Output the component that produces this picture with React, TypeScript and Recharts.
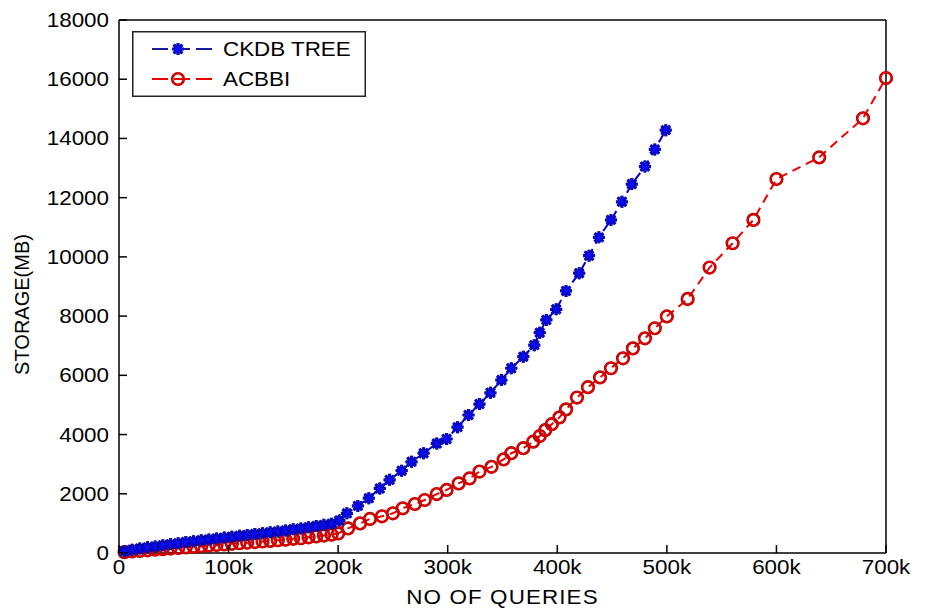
import React from 'react';
import { LineChart, Line, XAxis, YAxis, Legend, Label } from 'recharts';

const FONT = '"Liberation Sans", Arial, Helvetica, sans-serif';
const SX = 1.12; // slight horizontal stretch of the reference's lettering

const xTicks = [0, 100, 200, 300, 400, 500, 600, 700];
const yTicks = [0, 2000, 4000, 6000, 8000, 10000, 12000, 14000, 16000, 18000];

// CKDB TREE (x in thousands of queries, y in MB)
const ckdbX = [5, 12, 19, 26, 33, 40, 47, 54, 61, 68, 75, 82, 89, 96, 103, 110, 117, 124, 131, 138, 145, 152, 159, 166, 173, 180, 187, 194,
  201, 208, 218, 228, 238, 247, 258, 267, 278, 290, 299, 309, 319, 329, 339, 349, 358, 369, 379, 384, 390, 399, 408, 420, 429, 438, 449, 459, 468, 480, 489, 499];
const ckdbY = [60, 110, 150, 190, 220, 260, 300, 330, 370, 400, 430, 460, 490, 520, 550, 580, 610, 640, 670, 700, 730, 760, 800, 830, 870, 910, 950, 990,
  1100, 1340, 1590, 1850, 2180, 2470, 2780, 3080, 3370, 3700, 3850, 4250, 4660, 5030, 5410, 5840, 6240, 6630, 7020, 7440, 7870, 8230, 8850, 9450, 10040, 10660, 11250, 11860, 12460, 13050, 13630, 14280];

// ACBBI
const acbbiX = [5, 12, 19, 26, 33, 40, 47, 54, 61, 68, 75, 82, 89, 96, 103, 110, 117, 124, 131, 138, 145, 152, 159, 166, 173, 180, 187, 194,
  200, 209, 220, 229, 240, 250, 259, 270, 279, 290, 299, 310, 320, 329, 340, 351, 358, 369, 378, 384, 389, 395, 402, 408, 418, 428, 439, 449, 460, 469, 480, 489, 500,
  519, 539, 560, 579, 600, 639, 679, 700];
const acbbiY = [30, 50, 70, 90, 110, 130, 150, 170, 190, 210, 230, 250, 270, 290, 310, 330, 350, 370, 390, 410, 430, 450, 480, 500, 530, 560, 590, 620,
  660, 830, 1000, 1150, 1240, 1340, 1510, 1655, 1790, 1990, 2130, 2350, 2520, 2750, 2910, 3160, 3370, 3540, 3760, 3950, 4150, 4350, 4580, 4850, 5250, 5600, 5930, 6240, 6575, 6910, 7250, 7590, 7990,
  8580, 9640, 10460, 11250, 12630, 13360, 14680, 16040];

const ckdbData = ckdbX.map((x, i) => ({ x, y: ckdbY[i] }));
const acbbiData = acbbiX.map((x, i) => ({ x, y: acbbiY[i] }));

const BLUE = '#0a0aff';
const BLUE_DARK = '#000070';
const RED = '#ee0000';
const RED_DARK = '#a00000';

const Star = ({ cx, cy }: { cx: number; cy: number }) => {
  const r = 6;
  const d = r * 0.72;
  const path = `M${cx - r},${cy}L${cx + r},${cy}M${cx},${cy - r}L${cx},${cy + r}M${cx - d},${cy - d}L${cx + d},${cy + d}M${cx - d},${cy + d}L${cx + d},${cy - d}`;
  return (
    <g>
      <path d={path} stroke={BLUE_DARK} strokeWidth={3.2} fill="none" />
      <path d={path} stroke={BLUE} strokeWidth={1.6} fill="none" />
    </g>
  );
};

const Ring = ({ cx, cy }: { cx: number; cy: number }) => (
  <g>
    <circle cx={cx} cy={cy} r={5.8} fill="none" stroke={RED_DARK} strokeWidth={2.6} />
    <circle cx={cx} cy={cy} r={5.8} fill="none" stroke={RED} strokeWidth={1.4} />
  </g>
);

const renderStar = (p: any) => (p.cx == null ? <g key={p.index} /> : <g key={p.index}><Star cx={p.cx} cy={p.cy} /></g>);
const renderRing = (p: any) => (p.cx == null ? <g key={p.index} /> : <g key={p.index}><Ring cx={p.cx} cy={p.cy} /></g>);

const StretchText = ({ x, y, anchor, children, size = 20, spacing = 0 }: any) => (
  <text
    transform={`translate(${x} ${y}) scale(${SX} 1)`}
    x={0}
    y={0}
    textAnchor={anchor}
    style={{ fontFamily: FONT, fontSize: size, fill: '#000', letterSpacing: spacing }}
  >
    {children}
  </text>
);

const renderLegend = () => (
  <svg width={234} height={66} style={{ display: 'block' }}>
    <rect x={0.75} y={0.75} width={232.5} height={64.5} fill="#fff" stroke="#222" strokeWidth={1.5} />
    <line x1={20} y1={18} x2={85} y2={18} stroke="#1a1a9a" strokeWidth={2} strokeDasharray="16 6" />
    <Star cx={46} cy={18} />
    <StretchText x={91} y={25.3} anchor="start">CKDB TREE</StretchText>
    <line x1={20} y1={48} x2={85} y2={48} stroke={RED} strokeWidth={2} strokeDasharray="16 6" />
    <Ring cx={46} cy={48} />
    <StretchText x={91} y={55.3} anchor="start">ACBBI</StretchText>
  </svg>
);

const fmtX = (v: number) => (v === 0 ? '0' : `${v}k`);

const XTick = (p: any) => {
  const { x, y, payload } = p;
  return (
    <g>
      <line x1={x} y1={y} x2={x} y2={y - 8} stroke="#000" strokeWidth={1.5} />
      <StretchText x={x} y={y + 20.5} anchor="middle">{fmtX(payload.value)}</StretchText>
    </g>
  );
};

const YTick = (p: any) => {
  const { x, y, payload } = p;
  return (
    <g>
      <line x1={x} y1={y} x2={x + 8} y2={y} stroke="#000" strokeWidth={1.5} />
      <StretchText x={x - 10} y={y + 7} anchor="end">{payload.value}</StretchText>
    </g>
  );
};

const YLabel = (props: any) => {
  const vb = props.viewBox || { x: 0, y: 20, width: 119, height: 533 };
  const cx = vb.x + 29;
  const cy = vb.y + vb.height / 2 + 18;
  return (
    <text transform={`translate(${cx} ${cy}) rotate(-90)`} x={0} y={0} textAnchor="middle"
      style={{ fontFamily: FONT, fontSize: 20, fill: '#000' }}>
      STORAGE(MB)
    </text>
  );
};

const XLabel = (props: any) => {
  const vb = props.viewBox || { x: 119, y: 553, width: 767, height: 58 };
  const cx = vb.x + vb.width / 2;
  return <StretchText x={cx} y={vb.y + 51} anchor="middle" spacing={1}>NO OF QUERIES</StretchText>;
};

export default function App() {
  return (
    <div style={{ position: 'absolute', left: 0, top: 0, background: '#fff' }}>
      <LineChart width={932} height={611} margin={{ top: 20, right: 46, bottom: 0, left: 0 }}>
        {/* box edges with inward ticks on top and right */}
        <XAxis xAxisId="xt" type="number" dataKey="x" domain={[0, 700]} ticks={xTicks} orientation="top" mirror height={1}
          tick={false} tickSize={8} tickLine={{ stroke: '#000', strokeWidth: 1.5 }} axisLine={{ stroke: '#000', strokeWidth: 1.5 }} />
        <YAxis yAxisId="yr" type="number" domain={[0, 18000]} ticks={yTicks} orientation="right" mirror width={1}
          tick={false} tickSize={8} tickLine={{ stroke: '#000', strokeWidth: 1.5 }} axisLine={{ stroke: '#000', strokeWidth: 1.5 }} />

        <XAxis xAxisId={0} type="number" dataKey="x" domain={[0, 700]} ticks={xTicks}
          height={58} tickSize={0} tickMargin={0} tickLine={false} axisLine={{ stroke: '#000', strokeWidth: 1.5 }}
          tick={XTick} interval={0}>
          <Label content={XLabel} />
        </XAxis>
        <YAxis yAxisId={0} type="number" domain={[0, 18000]} ticks={yTicks} width={119} tickSize={0} tickMargin={0}
          tickLine={false} axisLine={{ stroke: '#000', strokeWidth: 1.5 }} tick={YTick} interval={0}>
          <Label content={YLabel} />
        </YAxis>

        <Legend content={renderLegend} layout="horizontal" verticalAlign="middle" align="center"
          wrapperStyle={{ position: 'absolute', left: 132, top: 31, width: 234, height: 66 }} />

        <Line data={acbbiData} dataKey="y" name="ACBBI" xAxisId={0} yAxisId={0} type="linear" stroke={RED} strokeWidth={2}
          strokeDasharray="9 6" dot={renderRing} activeDot={false} isAnimationActive={false} />
        <Line data={ckdbData} dataKey="y" name="CKDB TREE" xAxisId={0} yAxisId={0} type="linear" stroke="#0000cc" strokeWidth={2}
          strokeDasharray="9 6" dot={renderStar} activeDot={false} isAnimationActive={false} />
      </LineChart>
    </div>
  );
}
